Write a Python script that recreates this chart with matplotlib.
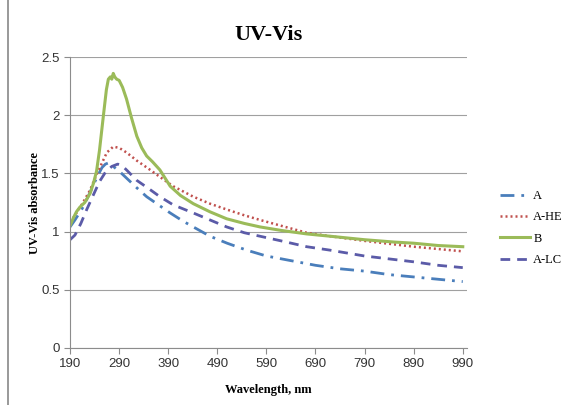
import matplotlib.pyplot as plt
from matplotlib.lines import Line2D

# wavelength (nm) / absorbance readings for each sample
wl_a = [190, 200, 215, 230, 245, 255, 262, 268, 275, 290, 305, 325, 346, 370, 394, 420, 441, 475, 510, 550, 590, 640, 690, 740, 790, 840, 890, 940, 990]
abs_a = [1.04, 1.10, 1.20, 1.33, 1.47, 1.55, 1.58, 1.59, 1.57, 1.52, 1.46, 1.38, 1.30, 1.23, 1.16, 1.09, 1.04, 0.96, 0.90, 0.84, 0.79, 0.75, 0.71, 0.68, 0.66, 0.63, 0.61, 0.59, 0.57]

wl_he = [190, 200, 215, 230, 244, 255, 265, 278, 290, 305, 326, 350, 373, 400, 441, 475, 509, 545, 577, 620, 672, 720, 790, 850, 890, 940, 990]
abs_he = [1.08, 1.14, 1.24, 1.35, 1.49, 1.59, 1.68, 1.73, 1.72, 1.68, 1.61, 1.54, 1.47, 1.39, 1.30, 1.24, 1.19, 1.14, 1.10, 1.05, 0.99, 0.96, 0.92, 0.89, 0.87, 0.85, 0.83]

wl_b = [190, 197, 203, 210, 220, 231, 238, 244, 250, 258, 264, 268, 272, 275, 278, 281, 285, 290, 297, 305, 315, 326, 336, 346, 358, 373, 385, 394, 415, 441, 475, 509, 545, 577, 620, 672, 720, 790, 850, 890, 940, 990]
abs_b = [1.05, 1.12, 1.17, 1.21, 1.25, 1.33, 1.42, 1.52, 1.70, 2.00, 2.22, 2.31, 2.33, 2.31, 2.36, 2.33, 2.31, 2.30, 2.24, 2.14, 1.98, 1.82, 1.72, 1.65, 1.60, 1.53, 1.45, 1.39, 1.31, 1.24, 1.17, 1.11, 1.07, 1.04, 1.01, 0.98, 0.96, 0.93, 0.91, 0.90, 0.88, 0.87]

wl_lc = [190, 200, 212, 224, 238, 250, 262, 275, 287, 295, 305, 326, 350, 373, 400, 441, 475, 509, 545, 577, 620, 672, 720, 790, 850, 890, 940, 990]
abs_lc = [0.93, 0.97, 1.07, 1.19, 1.32, 1.43, 1.51, 1.56, 1.58, 1.57, 1.53, 1.44, 1.37, 1.30, 1.23, 1.16, 1.10, 1.04, 0.99, 0.96, 0.92, 0.87, 0.84, 0.79, 0.76, 0.74, 0.71, 0.69]

x_ticks = [190, 290, 390, 490, 590, 690, 790, 890, 990]
y_ticks = [0, 0.5, 1, 1.5, 2, 2.5]
y_tick_labels = ['0', '0.5', '1', '1.5', '2', '2.5']

serif = ['Liberation Serif', 'DejaVu Serif']
sans = ['Liberation Sans', 'DejaVu Sans']

fig = plt.figure(figsize=(5.65, 4.05), dpi=100)
ax = fig.add_axes([0.124, 0.141, 0.702, 0.718])

ax.plot(wl_a, abs_a, color='#4a7ebb', lw=2, dashes=(5, 2.5, 1, 2.5), label='A')
ax.plot(wl_he, abs_he, color='#c0504d', lw=1.8, dashes=(0.8, 1.2), label='A-HE')
ax.plot(wl_b, abs_b, color='#9bbb59', lw=2.2, label='B')
ax.plot(wl_lc, abs_lc, color='#5b5ba8', lw=2, dashes=(3.5, 2.5), label='A-LC')

ax.set_xlim(190, 998)
ax.set_ylim(0, 2.5)
ax.set_xticks(x_ticks)
ax.set_yticks(y_ticks)
ax.set_yticklabels(y_tick_labels)
ax.grid(axis='y', color='#a0a0a0', lw=0.8)
ax.set_axisbelow(True)

for side in ['top', 'right']:
    ax.spines[side].set_visible(False)
for side in ['left', 'bottom']:
    ax.spines[side].set_color('#8c8c8c')
    ax.spines[side].set_linewidth(0.8)
ax.tick_params(colors='#8c8c8c', length=4, width=0.8, labelcolor='#333333', labelsize=9.5)
for lbl in ax.get_xticklabels() + ax.get_yticklabels():
    lbl.set_family(sans)

ax.set_title('UV-Vis', fontsize=16, fontweight='bold', family=serif, pad=12)
ax.set_xlabel('Wavelength, nm', fontsize=9, fontweight='bold', family=serif, labelpad=10)
ax.set_ylabel('UV-Vis absorbance', fontsize=9, fontweight='bold', family=serif, labelpad=0)

leg = ax.legend(loc='center left', bbox_to_anchor=(1.083, 0.412), frameon=False,
                prop={'family': serif, 'size': 9}, handlelength=2.4, handletextpad=0.3,
                labelspacing=0.75, borderpad=0, borderaxespad=0)

# chart area border on the left
fig.add_artist(Line2D([0.014, 0.014], [0.0, 1.0], color='#888888', lw=1.2))

fig.savefig('out.png', dpi=100)
